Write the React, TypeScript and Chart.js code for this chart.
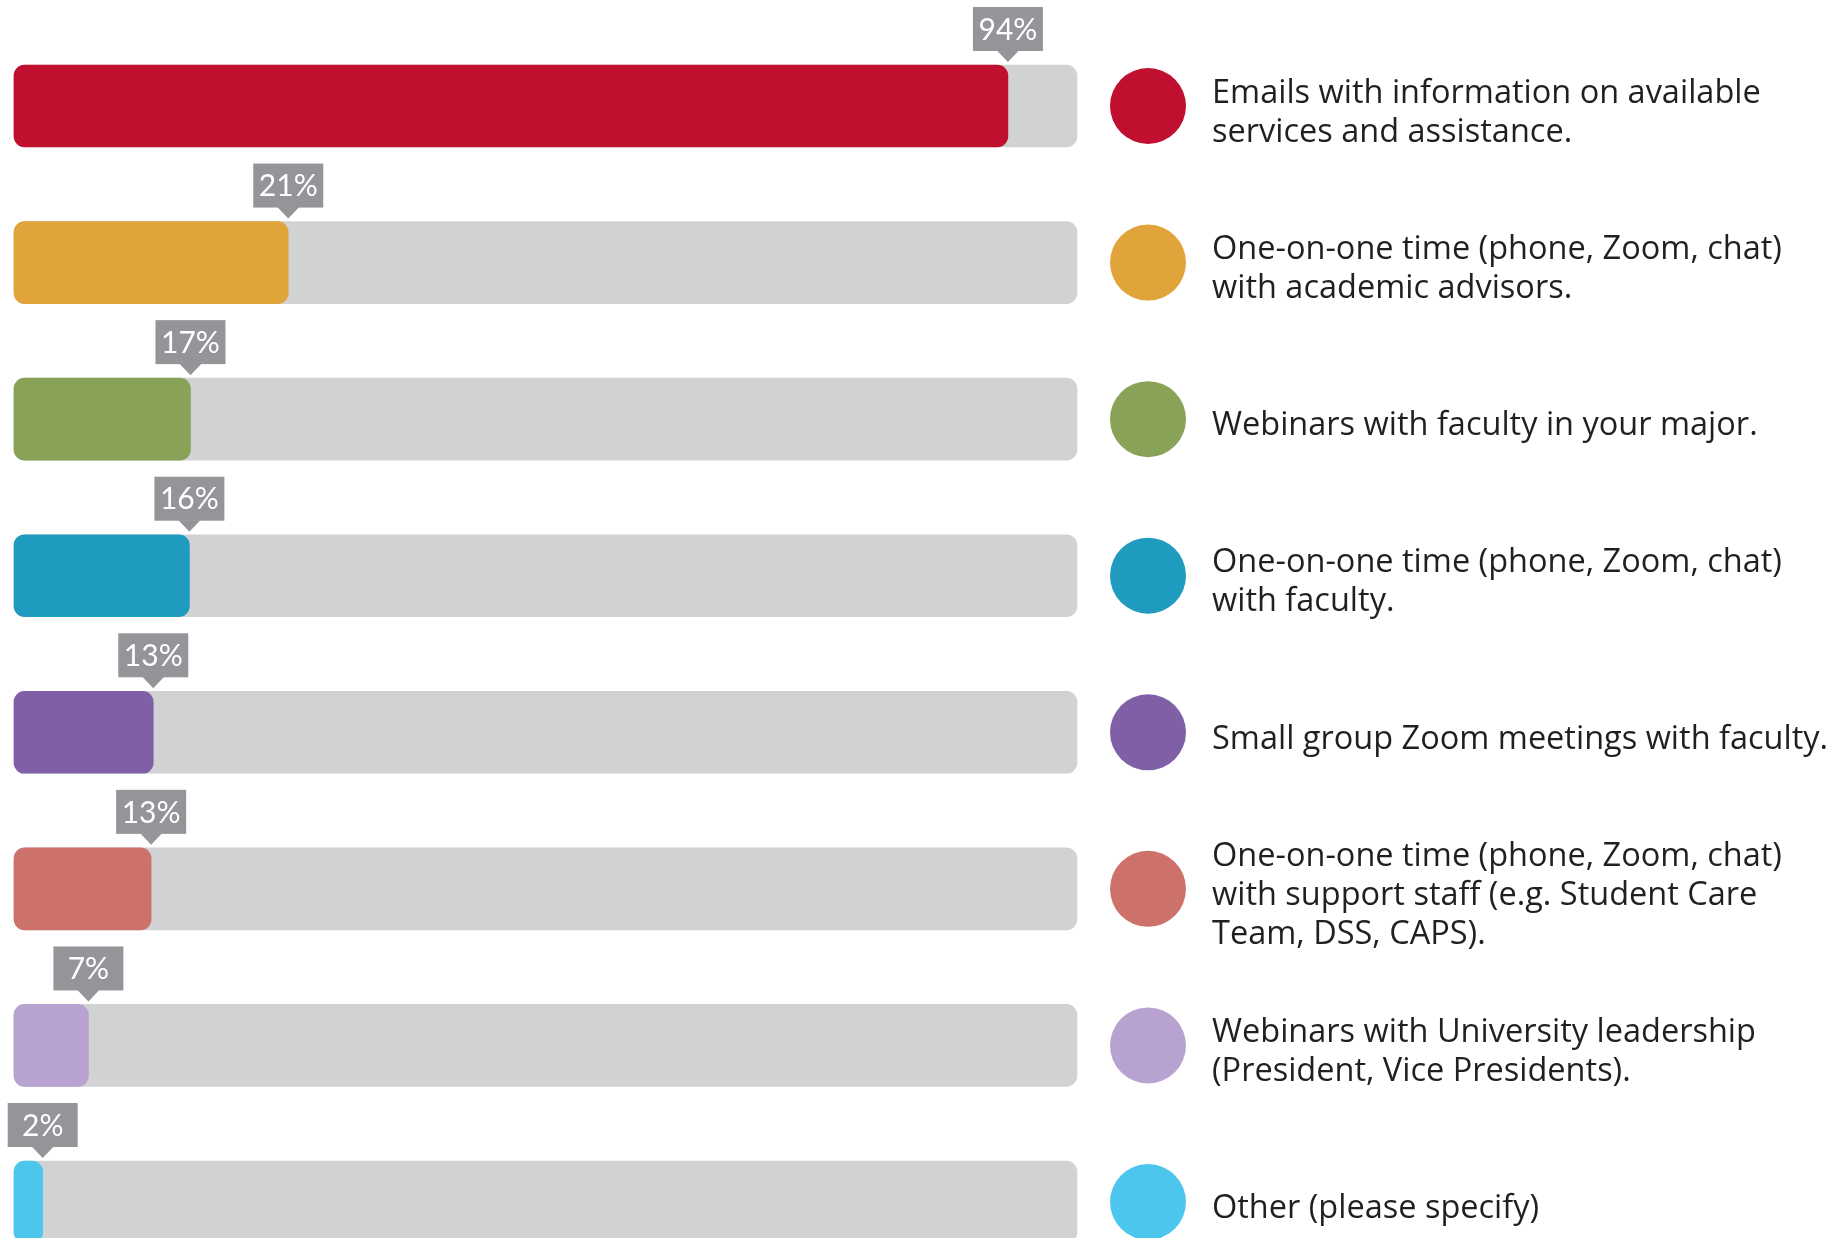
import React, { useEffect, useRef } from "react";
import { Chart, registerables } from "chart.js";

Chart.register(...registerables);

const categories: string[][] = [
  ["Emails with information on available", "services and assistance."],
  ["One-on-one time (phone, Zoom, chat)", "with academic advisors."],
  ["Webinars with faculty in your major."],
  ["One-on-one time (phone, Zoom, chat)", "with faculty."],
  ["Small group Zoom meetings with faculty."],
  ["One-on-one time (phone, Zoom, chat)", "with support staff (e.g. Student Care", "Team, DSS, CAPS)."],
  ["Webinars with University leadership", "(President, Vice Presidents)."],
  ["Other (please specify)"],
];

// bar lengths as drawn in the picture (percent of full track)
const barValues: number[] = [93.5, 25.8, 16.6, 16.5, 13.1, 12.9, 7.0, 2.7];
// percentage tags shown above each bar
const valueLabels: string[] = ["94%", "21%", "17%", "16%", "13%", "13%", "7%", "2%"];
const trackValues: number[] = [100, 100, 100, 100, 100, 100, 100, 100];

const colors: string[] = [
  "#c1102f",
  "#e0a43a",
  "#88a257",
  "#1e9bbf",
  "#7f60a6",
  "#cc726b",
  "#b8a2d0",
  "#4dc6ed",
];

const BAR_H = 82;
const TAG_FONT = "Lato, 'Open Sans', 'DejaVu Sans', sans-serif";
const LEGEND_FONT = "'Open Sans', Lato, 'DejaVu Sans', sans-serif";

const overlayPlugin = {
  id: "overlay",
  afterDatasetsDraw(chart: any) {
    const ctx = chart.ctx as CanvasRenderingContext2D;
    const xs = chart.scales.x;
    const ys = chart.scales.y;
    ctx.save();
    categories.forEach((lines, i) => {
      const yc = ys.getPixelForValue(i);
      const top = yc - BAR_H / 2;
      const xe = xs.getPixelForValue(barValues[i]);
      // tag box
      const bw = 70;
      const bh = 44;
      const bBottom = top - 14;
      ctx.fillStyle = "#939598";
      ctx.fillRect(xe - bw / 2, bBottom - bh, bw, bh);
      ctx.beginPath();
      ctx.moveTo(xe - 11, bBottom - 0.5);
      ctx.lineTo(xe + 11, bBottom - 0.5);
      ctx.lineTo(xe, top - 3);
      ctx.closePath();
      ctx.fill();
      ctx.fillStyle = "#ffffff";
      ctx.font = `400 30px ${TAG_FONT}`;
      ctx.textAlign = "center";
      ctx.textBaseline = "middle";
      ctx.fillText(valueLabels[i], xe, bBottom - bh / 2 + 1);

      // legend circle
      ctx.fillStyle = colors[i];
      ctx.beginPath();
      ctx.arc(1148, yc, 38, 0, Math.PI * 2);
      ctx.fill();

      // legend text
      ctx.fillStyle = "#231f20";
      ctx.font = `400 32.5px ${LEGEND_FONT}`;
      ctx.textAlign = "left";
      ctx.textBaseline = "middle";
      const lh = 39;
      const start = yc + 7 - ((lines.length - 1) * lh) / 2;
      lines.forEach((ln, k) => {
        ctx.fillText(ln, 1212, start + k * lh);
      });
    });
    ctx.restore();
  },
};

export default function App() {
  const ref = useRef<HTMLCanvasElement | null>(null);
  useEffect(() => {
    document.body.style.margin = "0";
    const canvas = ref.current;
    if (!canvas) return;
    const chart = new Chart(canvas, {
      type: "bar",
      data: {
        labels: categories as any,
        datasets: [
          {
            label: "Share",
            data: barValues,
            backgroundColor: colors,
            borderRadius: 11,
            borderSkipped: false,
            barThickness: BAR_H,
            grouped: false,
            clip: false,
            order: 0,
          } as any,
          {
            label: "Track",
            data: trackValues,
            backgroundColor: "#d1d2d4",
            borderRadius: 11,
            borderSkipped: false,
            barThickness: BAR_H,
            grouped: false,
            clip: false,
            order: 1,
          } as any,
        ],
      },
      options: {
        indexAxis: "y",
        animation: false,
        responsive: false,
        layout: { padding: { left: 14, right: 769, top: 106, bottom: 36 } },
        plugins: {
          legend: { display: false },
          tooltip: { enabled: false },
        },
        scales: {
          x: { display: false, min: 0, max: 100 },
          y: { display: false, offset: false },
        },
      },
      plugins: [overlayPlugin],
    });
    return () => chart.destroy();
  }, []);
  return (
    <div style={{ position: "fixed", left: 0, top: 0, width: 1846, height: 1238, background: "#fff" }}>
      <canvas ref={ref} width={1846} height={1238} style={{ display: "block" }} />
    </div>
  );
}
